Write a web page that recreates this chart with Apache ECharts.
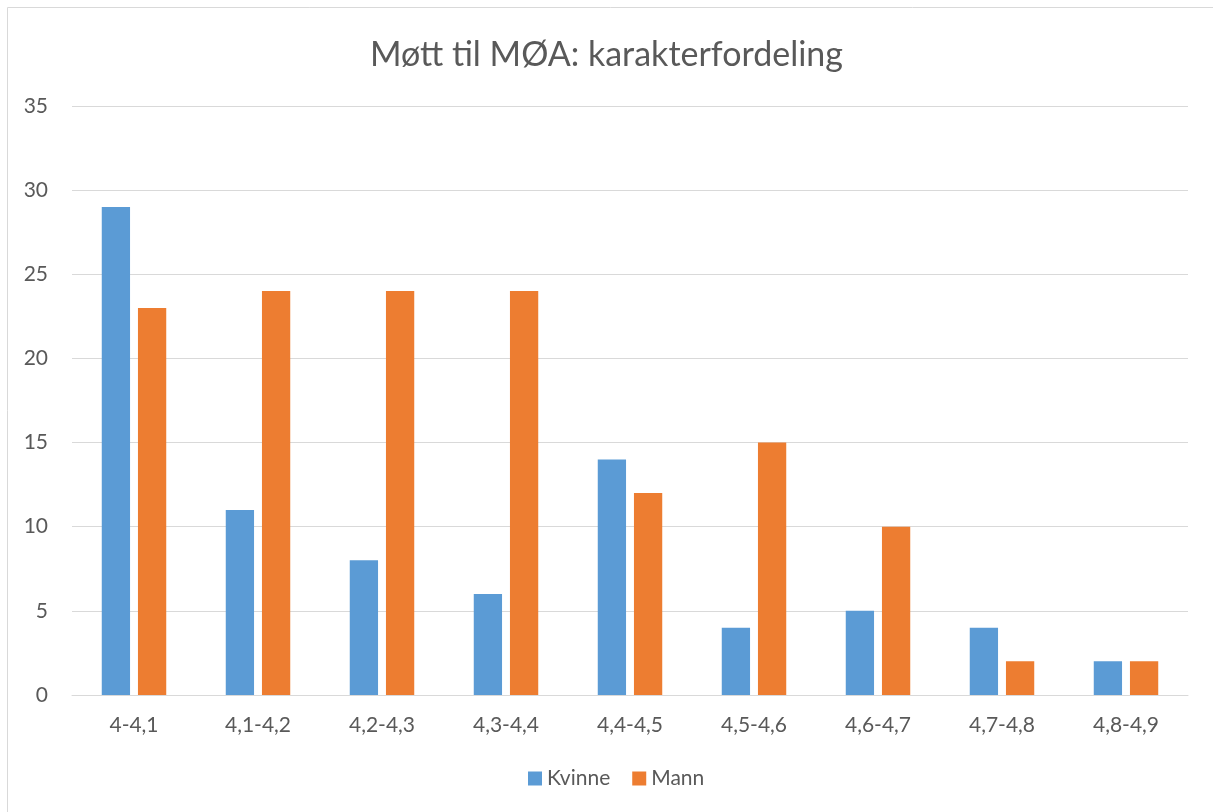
<!DOCTYPE html>
<html>
<head>
<meta charset="utf-8">
<script src="https://cdn.jsdelivr.net/npm/echarts@6/dist/echarts.min.js"></script>
<style>html,body{margin:0;padding:0;background:#fff}#c{width:1213px;height:812px}</style>
</head>
<body>
<div id="c"></div>
<script>
const categories = ['4-4,1','4,1-4,2','4,2-4,3','4,3-4,4','4,4-4,5','4,5-4,6','4,6-4,7','4,7-4,8','4,8-4,9'];
const kvinne = [29, 11, 8, 6, 14, 4, 5, 4, 2];
const mann = [23, 24, 24, 24, 12, 15, 10, 2, 2];
const seriesNames = ['Kvinne', 'Mann'];
const titleText = 'Møtt til MØA: karakterfordeling';

const chart = echarts.init(document.getElementById('c'), null, {renderer: 'canvas'});
const font = 'Lato, "Open Sans", sans-serif';
chart.setOption({
  animation: false,
  color: ['#5B9BD5', '#ED7D31'],
  title: {
    text: titleText, left: 'center', top: 33,
    textStyle: {fontFamily: font, fontSize: 34, fontWeight: 'normal', color: '#595959'}
  },
  legend: {
    data: seriesNames, bottom: 18, left: 523, itemWidth: 14, itemHeight: 14, itemGap: 22,
    icon: 'rect',
    textStyle: {fontFamily: font, fontSize: 21, color: '#595959'}
  },
  graphic: [{
    type: 'rect', shape: {x: 7.5, y: 7.5, width: 1240, height: 840},
    style: {fill: 'none', stroke: '#D9D9D9', lineWidth: 1}, silent: true
  }],
  grid: {left: 72, right: 25, top: 106, bottom: 117, containLabel: false},
  xAxis: {
    type: 'category', data: categories,
    axisLine: {lineStyle: {color: '#D9D9D9', width: 1}},
    axisTick: {show: false},
    axisLabel: {fontFamily: font, fontSize: 21, color: '#595959', margin: 20}
  },
  yAxis: {
    type: 'value', min: 0, max: 35, interval: 5,
    axisLine: {show: false}, axisTick: {show: false},
    splitLine: {lineStyle: {color: '#D9D9D9', width: 1}},
    axisLabel: {fontFamily: font, fontSize: 21, color: '#595959', margin: 24}
  },
  series: [
    {name: seriesNames[0], type: 'bar', data: kvinne, barGap: '28%', barCategoryGap: '48%'},
    {name: seriesNames[1], type: 'bar', data: mann, barGap: '28%', barCategoryGap: '48%'}
  ]
});
</script>
</body>
</html>
